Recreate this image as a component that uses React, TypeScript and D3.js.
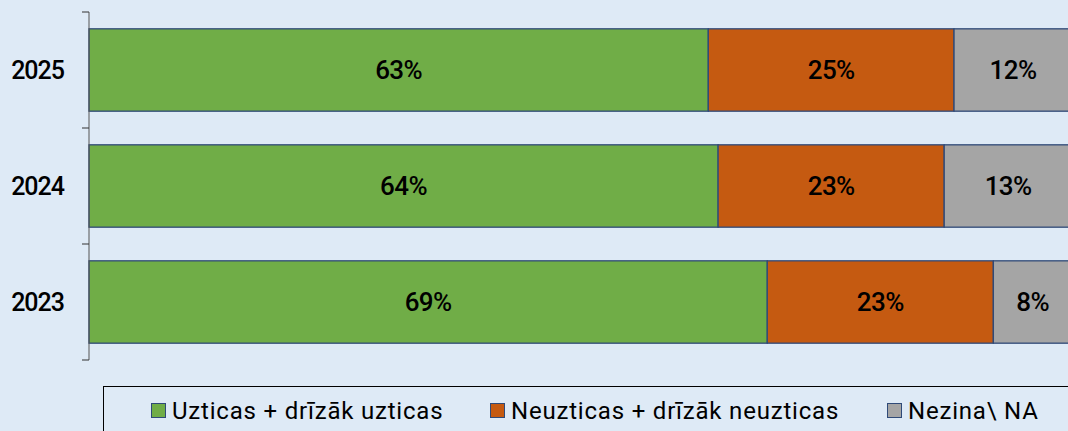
import React from "react";
import * as d3 from "d3";

const years = ["2025", "2024", "2023"];
const seriesNames = ["Uzticas + drīzāk uzticas", "Neuzticas + drīzāk neuzticas", "Nezina\\ NA"];
const trust = [63, 64, 69];
const distrust = [25, 23, 23];
const dontKnow = [12, 13, 8];
const colors = ["#70AD47", "#C55A11", "#A5A5A5"];

const W = 1068;
const H = 431;

export default function App() {
  const x = d3.scaleLinear().domain([0, 100]).range([89, 1072]);
  const y = d3.scaleBand().domain(years).range([12, 360]).paddingInner(0.29).paddingOuter(0.145);
  const series = [trust, distrust, dontKnow];
  const stacked = years.map((yr, i) => {
    let acc = 0;
    return series.map((s, k) => {
      const x0 = acc;
      acc += s[i];
      return { yr, k, x0, x1: acc, v: s[i] };
    });
  });
  const ticks = [12, 128, 244, 360];
  const font = "Roboto, 'DejaVu Sans', sans-serif";
  const legendX = [151, 490, 887];
  return (
    <svg width={W} height={H} style={{ position: "absolute", left: 0, top: 0, display: "block" }}>
      <rect x={0} y={0} width={W} height={H} fill="#DEEAF6" />
      {stacked.map((row) =>
        row.map((d) => (
          <g key={d.yr + d.k}>
            <rect
              x={x(d.x0)}
              y={y(d.yr)!}
              width={x(d.x1) - x(d.x0)}
              height={y.bandwidth()}
              fill={colors[d.k]}
              stroke="#2F4A78"
              strokeWidth={1.3}
            />
            <text
              x={(x(d.x0) + x(d.x1)) / 2}
              y={y(d.yr)! + y.bandwidth() / 2}
              dy="0.36em"
              textAnchor="middle"
              fontFamily={font}
              fontSize={26}
              fontWeight={500}
              letterSpacing={-0.6}
              fill="#000"
            >
              {d.v}%
            </text>
          </g>
        ))
      )}
      <line x1={89} x2={89} y1={12} y2={360} stroke="#555" strokeWidth={1} />
      {ticks.map((t) => (
        <line key={t} x1={82} x2={89} y1={t} y2={t} stroke="#333" strokeWidth={1} />
      ))}
      {years.map((yr) => (
        <text
          key={yr}
          x={64}
          y={y(yr)! + y.bandwidth() / 2}
          dy="0.36em"
          textAnchor="end"
          fontFamily={font}
          fontSize={25}
          fontWeight={500}
          letterSpacing={-1}
          fill="#000"
        >
          {yr}
        </text>
      ))}
      <rect x={103.5} y={386.5} width={1000} height={60} fill="none" stroke="#000" strokeWidth={1} />
      {seriesNames.map((n, i) => (
        <g key={n}>
          <rect x={legendX[i] + 0.5} y={403.5} width={14} height={14} fill={colors[i]} stroke="#2F4A78" strokeWidth={1} />
          <text x={legendX[i] + 21} y={419} fontFamily={font} fontSize={24} letterSpacing={0.8} fill="#000">
            {n}
          </text>
        </g>
      ))}
    </svg>
  );
}
